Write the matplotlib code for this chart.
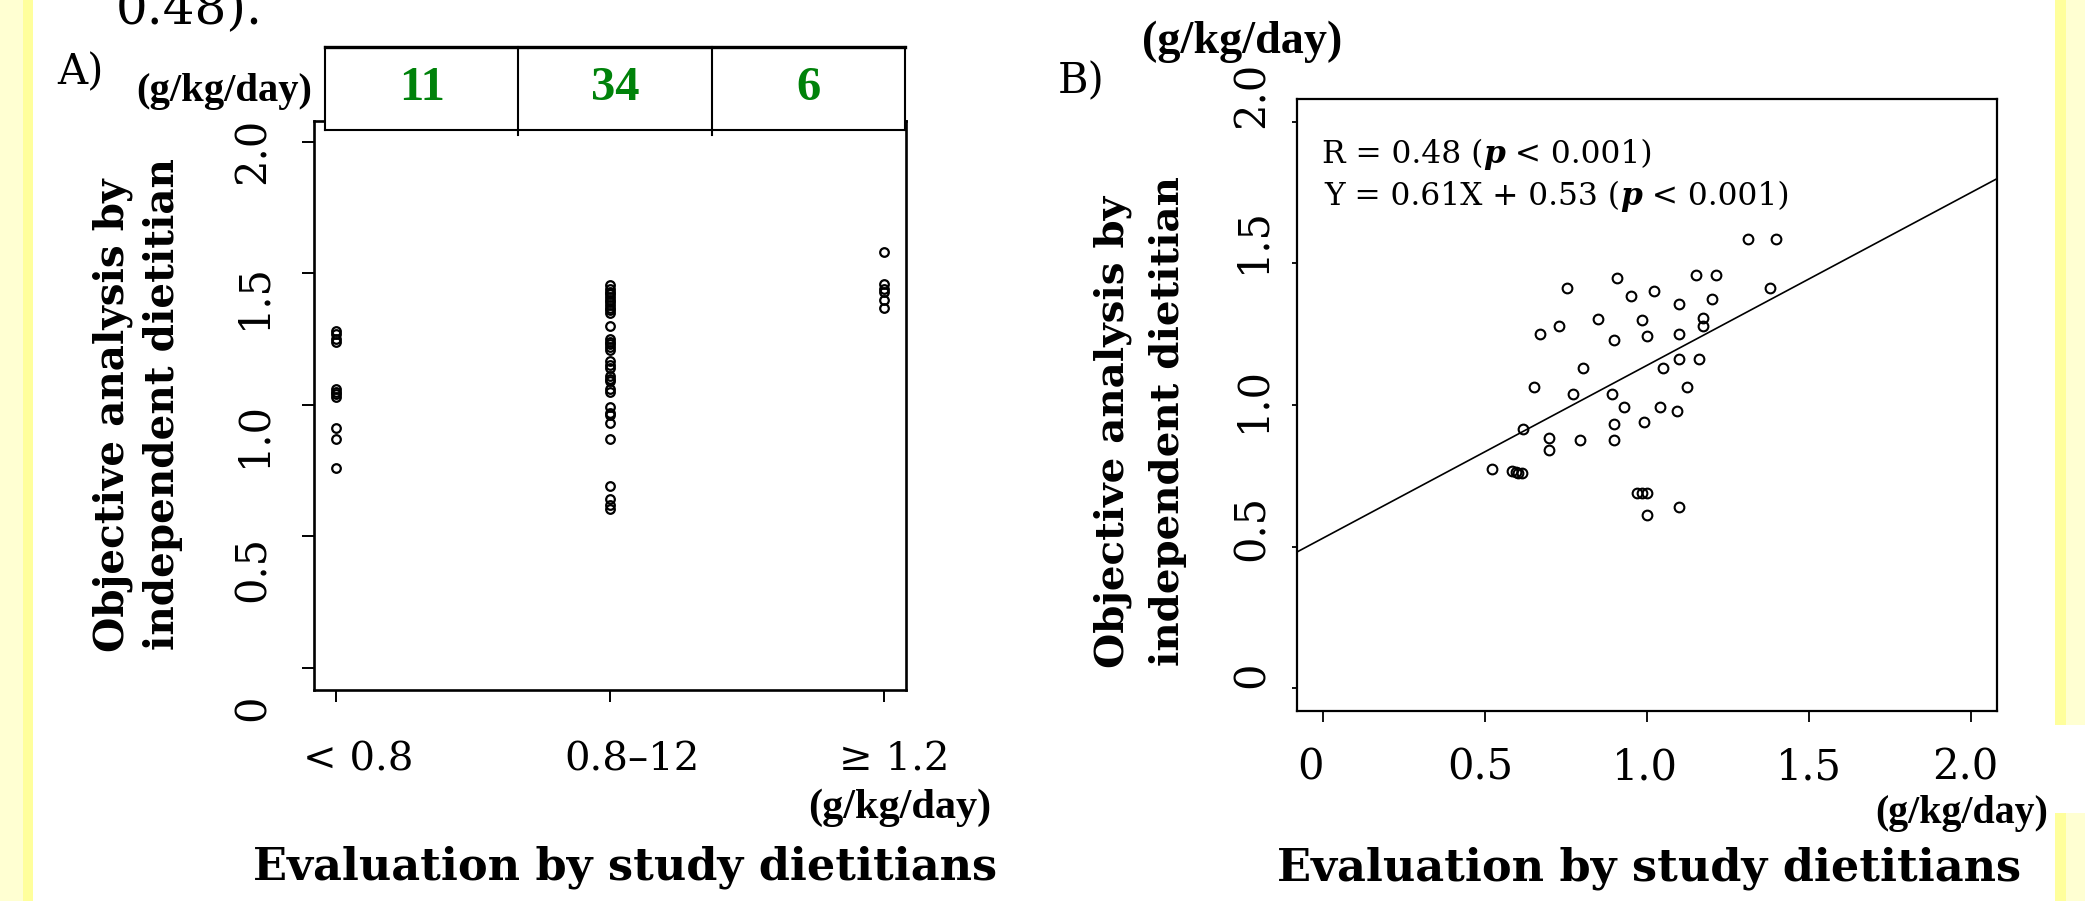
import numpy as np
import matplotlib
matplotlib.use("Agg")
import matplotlib.pyplot as plt
from matplotlib.patches import Rectangle
from matplotlib.offsetbox import TextArea, HPacker, AnnotationBbox

# ---------------- data ----------------
catA_labels = ["< 0.8", "0.8–12", "≥ 1.2"]
catA_counts = [11, 34, 6]
groupA_low = [1.28, 1.27, 1.25, 1.24, 1.06, 1.05, 1.04, 1.03, 0.91, 0.87, 0.76]
groupA_mid = [1.455, 1.44, 1.43, 1.42, 1.41, 1.40, 1.39, 1.38, 1.37, 1.36, 1.35,
              1.30,
              1.25, 1.24, 1.23, 1.22, 1.21,
              1.165, 1.15, 1.14, 1.11, 1.10, 1.09, 1.06, 1.05,
              0.99, 0.97, 0.96, 0.93,
              0.87,
              0.69,
              0.64, 0.62, 0.605]
groupA_high = [1.58, 1.46, 1.44, 1.43, 1.40, 1.37]

yticksA = [0, 0.5, 1.0, 1.5, 2.0]
ytick_labels = ["0", "0.5", "1.0", "1.5", "2.0"]
xticksB = [0, 0.5, 1.0, 1.5, 2.0]
xtick_labelsB = ["0", "0.5", "1.0", "1.5", "2.0"]

xB = [1.313, 1.398, 0.908, 1.150, 1.212, 0.752, 1.022, 0.951, 1.380, 1.200,
      1.099, 0.850, 0.984, 1.172, 1.172, 0.728, 0.670, 0.899, 0.999, 1.099,
      1.099, 1.160, 1.048, 0.801, 0.652, 0.771, 0.891, 1.123, 0.930, 1.040,
      1.092, 0.899, 0.991, 0.618, 0.699, 0.699, 0.793, 0.899, 0.523, 0.584,
      0.603, 0.613, 0.595, 0.968, 0.999, 0.985, 0.999, 1.099]
yB = [1.586, 1.586, 1.450, 1.459, 1.459, 1.412, 1.404, 1.383, 1.412, 1.375,
      1.356, 1.304, 1.300, 1.306, 1.279, 1.279, 1.250, 1.230, 1.244, 1.250,
      1.161, 1.161, 1.130, 1.130, 1.065, 1.038, 1.038, 1.065, 0.992, 0.992,
      0.980, 0.932, 0.939, 0.914, 0.882, 0.841, 0.876, 0.876, 0.773, 0.768,
      0.761, 0.761, 0.765, 0.690, 0.690, 0.690, 0.611, 0.641]
reg_slope = 0.61
reg_intercept = 0.53

# ---------------- figure ----------------
W, H = 2085, 901
plt.rcParams["font.family"] = ["DejaVu Serif"]
fig = plt.figure(figsize=(W / 100, H / 100), dpi=100, facecolor="white")


def ftext(px, py, s, **kw):
    return fig.text(px / W, 1 - py / H, s, **kw)


def frect(x0, y0, x1, y1, color):
    fig.patches.append(Rectangle((x0 / W, 1 - y1 / H), (x1 - x0) / W, (y1 - y0) / H,
                                 transform=fig.transFigure, color=color, zorder=0, lw=0))


pale = "#FFFFD2"
bright = "#FFFF9C"
frect(0, 0, 23, H, pale)
frect(23, 0, 33, H, bright)
frect(2055, 0, 2066, 725, bright)
frect(2066, 0, W, 725, pale)
frect(2055, 813, 2066, H, bright)
frect(2066, 813, W, H, pale)

# tail of the slide text above (cut off at the top edge, as in the reference)
ftext(116, 24, "0.48).", fontsize=36, ha="left", va="baseline")

unit_font = dict(fontweight="bold", family=["Liberation Serif"])

# ---------------- panel A ----------------
axA = fig.add_axes([314 / W, 1 - 690 / H, (906 - 314) / W, (690 - 121) / H])
axA.set_xlim(0.92, 3.08)
axA.set_ylim(-0.085, 2.08)
for i, vals in enumerate([groupA_low, groupA_mid, groupA_high]):
    axA.plot(np.full(len(vals), i + 1), vals, ls="none", marker="o", ms=6.2,
             mfc="none", mec="black", mew=1.6)
for s in axA.spines.values():
    s.set_linewidth(1.9)
axA.set_xticks([1, 2, 3])
axA.set_yticks(yticksA)
axA.tick_params(length=8.5, width=1.4, labelbottom=False, labelleft=False)

# count table
axT = fig.add_axes([325 / W, 1 - 130 / H, 580 / W, 83 / H], zorder=3)
axT.set_xlim(0, 3)
axT.set_ylim(0, 1)
axT.set_facecolor("white")
axT.set_xticks([])
axT.set_yticks([])
for s in axT.spines.values():
    s.set_linewidth(1.5)
axT.spines["top"].set_linewidth(2.4)
for xv in [1, 2]:
    axT.axvline(xv, ymin=-0.06, ymax=1, color="black", lw=1.5, clip_on=False)
for i, c in enumerate(catA_counts):
    axT.text(i + 0.5, 0.5, str(c), ha="center", va="center", color="#00820A",
             fontsize=35, fontweight="bold", family=["Liberation Serif"])

ftext(80, 72, "A)", fontsize=30, ha="center", va="center")
gA1 = ftext(224, 92, "(g/kg/day)", fontsize=20, ha="center", va="center", **unit_font)

# y tick labels A (as placed in the reference)
ylabA_pos = [708, 569, 434, 296, 151]
for lab, py in zip(ytick_labels, ylabA_pos):
    ftext(253, py, lab, fontsize=30, rotation=90, ha="center", va="center")
# x tick labels A
xlabA_pos = [358, 632, 894]
for lab, px in zip(catA_labels, xlabA_pos):
    ftext(px, 760, lab, fontsize=29, ha="center", va="center")
gA2 = ftext(900, 808, "(g/kg/day)", fontsize=20, ha="center", va="center", **unit_font)

yl1A = ftext(113, 652, "Objective analysis by", fontsize=30, fontweight="bold",
             rotation=90, ha="center", va="bottom")
yl2A = ftext(163, 650, "independent dietitian", fontsize=30, fontweight="bold",
             rotation=90, ha="center", va="bottom")
xlA = ftext(625, 867, "Evaluation by study dietitians", fontsize=30,
            fontweight="bold", ha="center", va="center")

# ---------------- panel B ----------------
axB = fig.add_axes([1297 / W, 1 - 711 / H, 700 / W, 612 / H])
axB.set_xlim(-0.08, 2.08)
axB.set_ylim(-0.08, 2.08)
axB.plot(xB, yB, ls="none", marker="o", ms=7, mfc="none", mec="black", mew=1.5)
axB.axline((0, reg_intercept), slope=reg_slope, color="black", lw=1.2)
for s in axB.spines.values():
    s.set_linewidth(1.6)
axB.set_xticks(xticksB)
axB.set_yticks(yticksA)
axB.tick_params(axis="x", length=8, width=1.3, labelbottom=False)
axB.tick_params(axis="y", length=3.6, width=1.3, labelleft=False)

ftext(1081, 81, "B)", fontsize=30, ha="center", va="center")
gB1 = ftext(1242, 42, "(g/kg/day)", fontsize=22, ha="center", va="center", **unit_font)

ylabB_pos = [675, 528, 399, 240, 95]
for lab, py in zip(ytick_labels, ylabB_pos):
    ftext(1252, py, lab, fontsize=30, rotation=90, ha="center", va="center")
xlabB_pos = [1310, 1480, 1645, 1809, 1965]
for lab, px in zip(xtick_labelsB, xlabB_pos):
    ftext(px, 768, lab, fontsize=30, ha="center", va="center")
gB2 = ftext(1962, 813, "(g/kg/day)", fontsize=20, ha="center", va="center", **unit_font)

yl1B = ftext(1113, 668, "Objective analysis by", fontsize=30, fontweight="bold",
             rotation=90, ha="center", va="bottom")
yl2B = ftext(1168, 666, "independent dietitian", fontsize=30, fontweight="bold",
             rotation=90, ha="center", va="bottom")
xlB = ftext(1649, 868, "Evaluation by study dietitians", fontsize=30,
            fontweight="bold", ha="center", va="center")


def stat_line(parts, px, py, size):
    boxes = []
    for txt, bold_it in parts:
        props = dict(fontsize=size, family="DejaVu Serif")
        if bold_it:
            props.update(fontweight="bold", fontstyle="italic")
        boxes.append(TextArea(txt, textprops=props))
    pack = HPacker(children=boxes, pad=0, sep=0, align="baseline")
    ab = AnnotationBbox(pack, (px, H - py), xycoords="figure pixels",
                        box_alignment=(0, 0.5), frameon=False, pad=0)
    fig.add_artist(ab)


stat_line([("R = 0.48 (", False), ("p", True), (" < 0.001)", False)], 1322, 155, 22.5)
stat_line([("Y = 0.61X + 0.53 (", False), ("p", True), (" < 0.001)", False)], 1324, 197, 22.5)

# ---------------- fit text sizes to the reference extents ----------------
r = fig.canvas.get_renderer()


def fit(t, target, vertical=False):
    for _ in range(3):
        bb = t.get_window_extent(renderer=r)
        w = bb.height if vertical else bb.width
        t.set_fontsize(t.get_fontsize() * target / w)


fit(xlA, 744)
fit(xlB, 744)
fit(yl1A, 475, vertical=True)
yl2A.set_fontsize(yl1A.get_fontsize())
fit(yl1B, 472, vertical=True)
yl2B.set_fontsize(yl1B.get_fontsize())
fit(gA1, 176)
fit(gA2, 183)
fit(gB1, 200)
fit(gB2, 173)

fig.savefig("out.png", dpi=100, facecolor="white")
